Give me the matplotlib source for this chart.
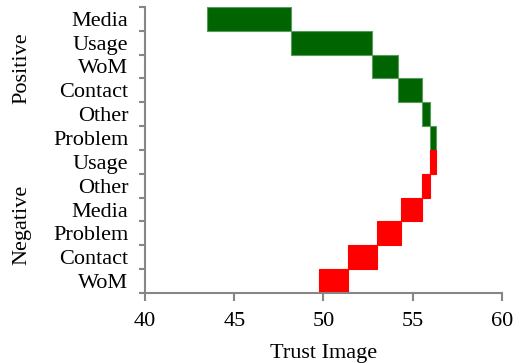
import matplotlib
matplotlib.use('Agg')
import matplotlib.pyplot as plt
import numpy as np

plt.rcParams['font.family'] = ['Liberation Serif', 'DejaVu Serif']

# waterfall data: starting value, then contributions top to bottom
start = 43.45
labels = ['Media', 'Usage', 'WoM', 'Contact', 'Other', 'Problem',
          'Usage', 'Other', 'Media', 'Problem', 'Contact', 'WoM']
deltas = [4.74, 4.51, 1.49, 1.33, 0.47, 0.31,
          -0.30, -0.50, -1.17, -1.35, -1.62, -1.62]
groups = ['Positive', 'Negative']

deltas = np.array(deltas)
ends = start + np.cumsum(deltas)
begins = np.concatenate([[start], ends[:-1]])
lefts = np.minimum(begins, ends)
widths = np.abs(deltas)
colors = ['#006400' if d > 0 else '#ff0000' for d in deltas]
edges = ['#5a9a5a' if d > 0 else '#ff0000' for d in deltas]

fig = plt.figure(figsize=(5.2, 3.63), dpi=100)
ax = fig.add_axes([0.279, 0.193, 0.686, 0.788])

y = np.arange(len(labels))
ax.barh(y, widths, left=lefts, height=1.0, color=colors, edgecolor=edges, linewidth=0.8)

ax.set_xlim(40, 60)
ax.set_ylim(len(labels) - 0.5, -0.5)
ax.set_xticks([40, 45, 50, 55, 60])
ax.set_yticks(y)
ax.set_yticklabels(labels)
ax.set_yticks(np.arange(-0.5, len(labels)), minor=True)
ax.tick_params(axis='y', which='major', length=0, labelsize=16, pad=12)
ax.tick_params(axis='y', which='minor', length=4, width=1.5, color='#868686')
ax.tick_params(axis='x', length=6, width=1.5, color='#868686', labelsize=16, pad=8)

for side in ['top', 'right']:
    ax.spines[side].set_visible(False)
for side in ['left', 'bottom']:
    ax.spines[side].set_color('#868686')
    ax.spines[side].set_linewidth(1.5)

ax.set_xlabel('Trust Image', fontsize=16, labelpad=9)

fig.text(0.042, 0.813, groups[0], rotation=90, fontsize=16, ha='center', va='center')
fig.text(0.042, 0.38, groups[1], rotation=90, fontsize=16, ha='center', va='center')

plt.savefig('out.png', dpi=100)
